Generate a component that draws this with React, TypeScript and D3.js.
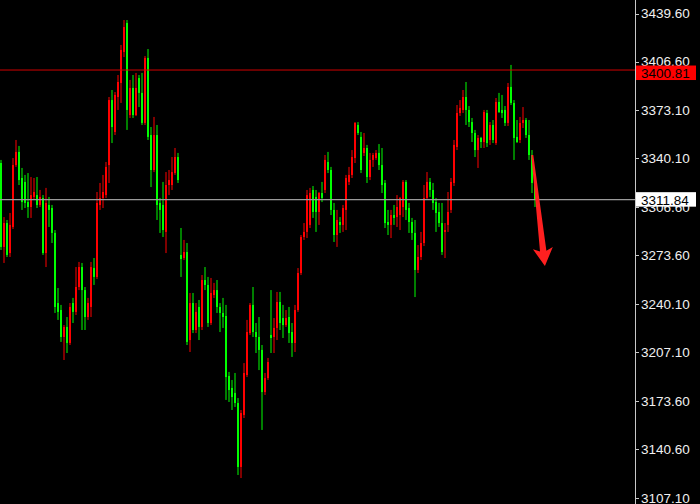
import React from 'react';
import * as d3 from 'd3';

// OHLC bars, oldest first
const opens = [
  3337.0, 3279.4, 3295.8, 3275.2, 3293.1, 3335.6, 3344.6, 3326.7, 3324.0, 3310.2,
  3306.8, 3313.7, 3315.0, 3308.2, 3313.0, 3275.2, 3308.2, 3306.1, 3289.0, 3240.9,
  3236.1, 3217.6, 3224.5, 3213.5, 3240.9, 3234.8, 3251.9, 3265.6, 3249.8, 3231.3,
  3238.2, 3264.9, 3258.8, 3308.2, 3313.0, 3315.0, 3335.6, 3380.2, 3358.3, 3382.3,
  3391.9, 3413.2, 3433.1, 3369.9, 3388.5, 3369.9, 3395.3, 3385.1, 3364.5, 3409.1,
  3356.2, 3332.2, 3356.2, 3309.6, 3308.2, 3289.7, 3321.9, 3321.9, 3330.1, 3341.1,
  3273.9, 3271.8, 3275.9, 3215.5, 3240.9, 3222.4, 3238.2, 3224.5, 3256.7, 3253.3,
  3227.2, 3246.4, 3249.8, 3238.2, 3234.1, 3232.0, 3190.8, 3182.6, 3179.2, 3172.3,
  3128.4, 3164.1, 3191.5, 3220.3, 3239.6, 3221.0, 3217.6, 3208.7, 3179.8, 3189.4,
  3219.0, 3217.6, 3223.8, 3241.6, 3230.6, 3225.8, 3231.3, 3221.0, 3213.5, 3236.1,
  3261.5, 3286.2, 3289.7, 3294.5, 3318.5, 3313.7, 3303.4, 3316.4, 3318.5, 3337.7,
  3332.2, 3304.8, 3287.6, 3296.5, 3294.5, 3304.8, 3324.0, 3328.8, 3340.4, 3363.1,
  3354.9, 3343.9, 3347.3, 3327.4, 3339.1, 3340.4, 3343.9, 3335.6, 3323.3, 3296.5,
  3294.5, 3301.3, 3299.9, 3301.3, 3306.8, 3324.0, 3306.1, 3296.5, 3289.0, 3263.6,
  3272.5, 3282.1, 3313.0, 3324.0, 3318.5, 3310.2, 3303.4, 3295.8, 3289.7, 3294.5,
  3304.8, 3323.3, 3348.0, 3371.3, 3373.4, 3382.3, 3373.4, 3365.1, 3357.6, 3345.9,
  3354.2, 3351.4, 3371.3, 3352.8, 3363.1, 3350.7, 3378.9, 3373.4, 3373.4, 3364.5,
  3389.2, 3378.2, 3354.9, 3352.8, 3364.5, 3366.5, 3356.2, 3342.5, 3323.3,
];
const highs = [
  3339.1, 3299.9, 3297.9, 3302.7, 3340.4, 3352.8, 3348.7, 3333.6, 3328.8, 3330.1,
  3327.4, 3326.7, 3327.4, 3318.5, 3315.0, 3319.9, 3313.7, 3308.2, 3291.0, 3251.2,
  3239.6, 3225.8, 3231.3, 3240.9, 3244.4, 3265.6, 3269.1, 3268.4, 3251.9, 3244.4,
  3269.1, 3271.8, 3317.1, 3323.3, 3328.8, 3337.7, 3382.3, 3387.1, 3385.7, 3397.4,
  3418.0, 3435.1, 3435.1, 3394.0, 3397.4, 3398.8, 3397.4, 3398.8, 3410.4, 3415.2,
  3361.7, 3368.6, 3363.1, 3313.0, 3324.0, 3330.8, 3332.2, 3341.1, 3347.3, 3343.9,
  3292.4, 3284.2, 3282.1, 3247.8, 3247.8, 3240.9, 3243.0, 3260.1, 3265.6, 3258.8,
  3258.1, 3254.7, 3256.7, 3240.9, 3244.4, 3239.6, 3193.6, 3188.1, 3192.9, 3175.7,
  3167.5, 3199.7, 3229.3, 3240.9, 3251.9, 3227.2, 3231.3, 3212.1, 3192.9, 3203.2,
  3249.8, 3230.6, 3248.5, 3248.5, 3239.6, 3236.1, 3238.2, 3227.2, 3239.6, 3264.9,
  3287.6, 3295.8, 3318.5, 3319.9, 3321.2, 3318.5, 3317.1, 3324.0, 3342.5, 3344.6,
  3334.3, 3309.6, 3304.8, 3299.9, 3308.2, 3328.8, 3334.3, 3345.9, 3365.1, 3365.1,
  3358.3, 3357.6, 3349.4, 3343.9, 3343.9, 3345.9, 3350.0, 3347.3, 3325.3, 3304.8,
  3304.8, 3308.2, 3315.0, 3313.7, 3325.3, 3325.3, 3309.6, 3299.3, 3297.9, 3280.7,
  3289.7, 3321.9, 3330.8, 3326.7, 3323.3, 3313.0, 3309.6, 3309.6, 3295.8, 3317.1,
  3326.7, 3352.8, 3376.8, 3380.2, 3387.1, 3392.6, 3376.1, 3367.9, 3359.7, 3356.2,
  3354.9, 3373.4, 3373.4, 3365.1, 3366.5, 3381.6, 3385.1, 3383.7, 3376.1, 3391.9,
  3404.3, 3380.2, 3366.5, 3368.6, 3375.4, 3367.9, 3366.5, 3345.9, 3325.3,
];
const lows = [
  3277.3, 3268.4, 3272.5, 3272.5, 3291.7, 3334.3, 3321.9, 3304.8, 3306.1, 3299.3,
  3299.3, 3311.6, 3306.1, 3306.8, 3273.9, 3265.6, 3293.1, 3282.1, 3234.1, 3229.3,
  3214.2, 3201.8, 3206.6, 3212.1, 3227.2, 3232.7, 3249.8, 3222.4, 3222.4, 3229.3,
  3231.3, 3253.3, 3257.4, 3304.8, 3306.1, 3313.0, 3323.3, 3350.7, 3356.2, 3373.4,
  3378.2, 3409.7, 3359.7, 3367.9, 3367.9, 3369.2, 3375.4, 3363.1, 3363.1, 3352.8,
  3320.5, 3330.8, 3297.9, 3289.0, 3286.2, 3275.2, 3315.0, 3318.5, 3328.8, 3323.3,
  3258.8, 3270.4, 3212.1, 3207.3, 3220.3, 3220.3, 3215.5, 3222.4, 3249.8, 3224.5,
  3225.8, 3244.4, 3234.1, 3221.0, 3223.8, 3174.4, 3173.0, 3167.5, 3169.6, 3122.9,
  3120.8, 3162.0, 3190.1, 3219.0, 3217.6, 3206.6, 3194.9, 3153.8, 3177.8, 3188.1,
  3206.6, 3206.6, 3215.5, 3222.4, 3216.9, 3224.5, 3213.5, 3203.9, 3207.3, 3234.8,
  3260.1, 3284.2, 3285.5, 3292.4, 3299.3, 3289.7, 3294.5, 3310.2, 3316.4, 3330.1,
  3301.3, 3282.8, 3279.4, 3289.0, 3289.7, 3291.0, 3321.9, 3326.7, 3337.0, 3356.2,
  3330.1, 3341.8, 3323.3, 3325.3, 3334.3, 3339.1, 3332.2, 3316.4, 3292.4, 3287.6,
  3285.5, 3294.5, 3293.1, 3291.0, 3299.9, 3297.9, 3289.0, 3284.2, 3245.0, 3261.5,
  3270.4, 3280.0, 3311.6, 3313.7, 3304.8, 3289.7, 3293.1, 3273.9, 3271.8, 3289.7,
  3302.7, 3321.2, 3345.9, 3369.3, 3371.3, 3363.1, 3361.7, 3351.4, 3341.1, 3333.6,
  3347.3, 3347.3, 3348.0, 3349.4, 3350.7, 3349.4, 3371.3, 3367.9, 3362.4, 3362.4,
  3376.8, 3339.1, 3350.7, 3350.7, 3361.0, 3354.2, 3339.1, 3316.4, 3306.8,
];
const closes = [
  3279.4, 3295.8, 3273.9, 3294.5, 3335.6, 3344.6, 3325.3, 3310.2, 3309.6, 3306.8,
  3315.0, 3317.1, 3308.2, 3313.7, 3275.2, 3309.6, 3304.8, 3289.0, 3238.2, 3234.8,
  3217.6, 3224.5, 3213.5, 3238.2, 3234.8, 3251.9, 3265.6, 3249.8, 3231.3, 3240.9,
  3265.6, 3258.8, 3309.6, 3313.0, 3317.1, 3334.3, 3380.2, 3361.7, 3383.7, 3392.6,
  3414.6, 3430.3, 3373.4, 3388.5, 3369.9, 3388.5, 3385.1, 3364.5, 3409.1, 3354.9,
  3332.2, 3356.2, 3308.2, 3304.8, 3291.0, 3321.9, 3325.3, 3330.8, 3341.1, 3325.3,
  3271.1, 3275.9, 3214.2, 3240.9, 3222.4, 3234.8, 3224.5, 3256.7, 3253.3, 3227.2,
  3247.8, 3249.8, 3238.2, 3234.1, 3231.3, 3190.1, 3181.2, 3176.4, 3172.3, 3128.4,
  3165.4, 3192.9, 3221.0, 3239.6, 3221.0, 3217.6, 3208.7, 3179.8, 3189.4, 3200.4,
  3216.9, 3223.8, 3241.6, 3227.2, 3225.8, 3230.6, 3220.3, 3213.5, 3236.1, 3261.5,
  3286.2, 3289.7, 3315.0, 3316.4, 3303.4, 3303.4, 3316.4, 3313.0, 3339.1, 3332.2,
  3304.8, 3287.6, 3297.9, 3294.5, 3306.1, 3326.7, 3328.8, 3341.1, 3364.5, 3357.6,
  3332.2, 3347.3, 3327.4, 3339.1, 3342.5, 3343.9, 3335.6, 3321.9, 3295.8, 3294.5,
  3301.3, 3299.3, 3306.8, 3313.0, 3324.0, 3304.8, 3296.5, 3289.0, 3263.6, 3272.5,
  3282.1, 3313.0, 3324.0, 3318.5, 3309.6, 3302.7, 3295.8, 3275.9, 3291.0, 3303.4,
  3324.0, 3349.4, 3371.3, 3374.8, 3382.3, 3373.4, 3365.1, 3357.6, 3345.9, 3354.2,
  3351.4, 3372.0, 3350.7, 3363.1, 3352.8, 3378.9, 3372.0, 3371.3, 3364.5, 3389.2,
  3378.2, 3354.2, 3351.4, 3364.5, 3366.5, 3356.2, 3342.5, 3323.3, 3311.84,
];

// price scale labels on the right
const priceTicks = [
  3439.6, 3406.6, 3373.1, 3340.1, 3306.6, 3273.6, 3240.1, 3207.1, 3173.6, 3140.6, 3107.1,
];

const resistanceLevel = 3400.81;
const lastPrice = 3311.84;

// forecast arrow, expressed in (bar index, price)
const arrowFrom = { bar: 177.1, price: 3342.5 };
const arrowTo = { bar: 181.3, price: 3266.3 };

const W = 700;
const H = 504;
const AXIS_X = 635;
const BULL = '#ff0000';
const BEAR = '#00ff00';
const FONT = '"Liberation Sans", Arial, sans-serif';

export default function App() {
  const n = opens.length;
  const bars = d3.range(n).map((i) => ({
    i,
    o: opens[i],
    h: highs[i],
    l: lows[i],
    c: closes[i],
  }));

  const x = d3
    .scaleBand<number>()
    .domain(d3.range(n))
    .range([-0.5, 3 * n - 0.5])
    .paddingInner(1 / 3)
    .paddingOuter(1 / 6);
  const bw = x.bandwidth();
  const xc = d3
    .scaleLinear()
    .domain([0, n - 1])
    .range([(x(0) as number) + bw / 2, (x(n - 1) as number) + bw / 2]);

  const y = d3.scaleLinear().domain([3107.1, 3439.6]).range([498, 13.5]);

  // arrow polygon built along the start→tip direction
  const sx = xc(arrowFrom.bar);
  const sy = y(arrowFrom.price);
  const tx = xc(arrowTo.bar);
  const ty = y(arrowTo.price);
  const L = Math.hypot(tx - sx, ty - sy);
  const ux = (tx - sx) / L;
  const uy = (ty - sy) / L;
  const nx = -uy;
  const ny = ux;
  const pt = (t: number, s: number) => [sx + ux * t + nx * s, sy + uy * t + ny * s];
  const arrowPts = [
    pt(0, -1),
    pt(L - 15, -3.2),
    pt(L - 18, -10),
    pt(L, 0),
    pt(L - 18, 10),
    pt(L - 15, 3.2),
    pt(0, 1),
  ]
    .map((p) => p.join(','))
    .join(' ');

  const yRes = y(resistanceLevel);
  const yLast = y(lastPrice);

  return (
    <div
      style={{
        position: 'fixed',
        left: 0,
        top: 0,
        width: W,
        height: H,
        background: '#000',
        overflow: 'hidden',
      }}
    >
      <svg width={W} height={H} style={{ display: 'block' }}>
        <rect x={0} y={0} width={W} height={H} fill="#000" />

        {/* candles */}
        <g>
          {bars.map((b) => {
            const col = b.c >= b.o ? BULL : BEAR;
            const cx = (x(b.i) as number) + bw / 2;
            const top = y(Math.max(b.o, b.c));
            const bot = y(Math.min(b.o, b.c));
            return (
              <g key={b.i}>
                <line x1={cx} x2={cx} y1={y(b.h)} y2={y(b.l)} stroke={col} strokeWidth={1} />
                <rect
                  x={x(b.i) as number}
                  y={top}
                  width={bw}
                  height={Math.max(1, bot - top)}
                  fill={col}
                />
              </g>
            );
          })}
        </g>

        {/* horizontal levels */}
        <line x1={0} x2={AXIS_X} y1={yRes} y2={yRes} stroke="#d00000" strokeWidth={1} />
        <line x1={0} x2={AXIS_X} y1={yLast} y2={yLast} stroke="#9a9a9a" strokeWidth={1.2} />

        {/* forecast arrow */}
        <polygon points={arrowPts} fill="#ff2020" />

        {/* price axis */}
        <line x1={AXIS_X + 0.5} x2={AXIS_X + 0.5} y1={0} y2={H} stroke="#c8c8c8" strokeWidth={1} />
        {priceTicks.map((t) => (
          <g key={t}>
            <line
              x1={AXIS_X}
              x2={AXIS_X + 4}
              y1={Math.round(y(t)) + 0.5}
              y2={Math.round(y(t)) + 0.5}
              stroke="#c8c8c8"
            />
            <text
              x={641}
              y={y(t)}
              dy="0.36em"
              fill="#f0f0f0"
              fontFamily={FONT}
              fontSize={13.5}
            >
              {t.toFixed(2)}
            </text>
          </g>
        ))}

        {/* level labels */}
        <rect x={AXIS_X + 1} y={yRes - 4.5} width={60} height={14.5} fill="#ff0000" />
        <text x={641} y={yRes + 2.8} dy="0.36em" fill="#000" fontFamily={FONT} fontSize={13.5}>
          {resistanceLevel.toFixed(2)}
        </text>
        <rect x={AXIS_X + 1} y={yLast - 7.5} width={60} height={14.5} fill="#ffffff" />
        <text x={641} y={yLast} dy="0.36em" fill="#000" fontFamily={FONT} fontSize={13.5}>
          {lastPrice.toFixed(2)}
        </text>
      </svg>
    </div>
  );
}
